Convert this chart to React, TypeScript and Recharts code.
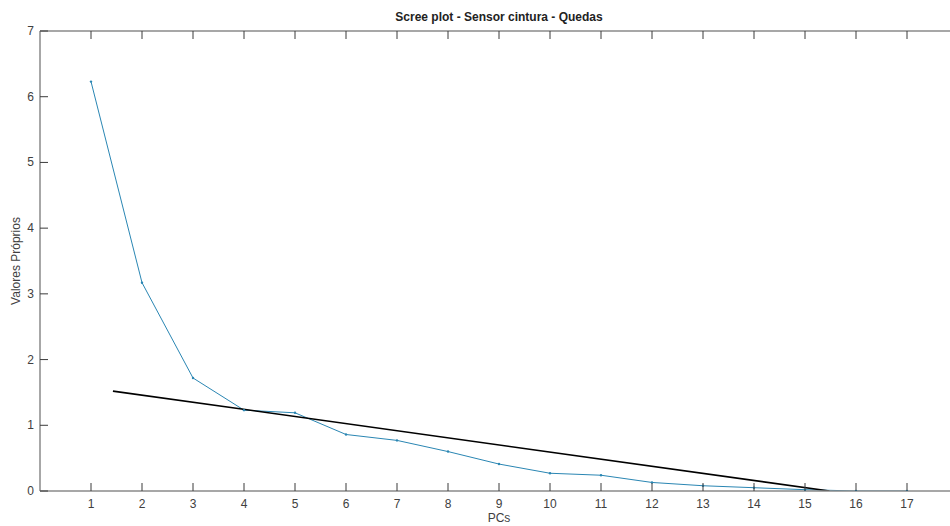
import React from "react";
import { LineChart, Line, XAxis, YAxis } from "recharts";

// principal components and their eigenvalues
const pcs = [1, 2, 3, 4, 5, 6, 7, 8, 9, 10, 11, 12, 13, 14, 15, 16, 17];
const eigenvalues = [6.23, 3.17, 1.72, 1.23, 1.19, 0.86, 0.77, 0.6, 0.41, 0.27, 0.24, 0.13, 0.08, 0.05, 0.02, 0, 0];

// straight reference line drawn over the elbow
const fitX = [1.43, 15.48];
const fitY = [1.52, 0];

const xTicks = [1, 2, 3, 4, 5, 6, 7, 8, 9, 10, 11, 12, 13, 14, 15, 16, 17];
const yTicks = [0, 1, 2, 3, 4, 5, 6, 7];

const BLUE = "#2a86b3";
const AXIS = "#8a8a8a";
const TICK = "#3a3a3a";
const TXT = "#404040";
const FONT = "'Liberation Sans', Arial, Helvetica, sans-serif";

const screeData = pcs.map((pc, i) => ({ x: pc, y: eigenvalues[i] }));
const fitData = fitX.map((x, i) => ({ x, y: fitY[i] }));

const BottomTick = (props: any) => {
  const { x, y, payload } = props;
  return (
    <g>
      <line x1={x} x2={x} y1={y} y2={y - 8} stroke={TICK} strokeWidth={1} />
      <text x={x} y={y + 17} textAnchor="middle" fill={TXT} fontSize={12} fontFamily={FONT}>
        {payload.value}
      </text>
    </g>
  );
};

const TopTick = (props: any) => {
  const { x, y } = props;
  return <line x1={x} x2={x} y1={y} y2={y + 8} stroke={TICK} strokeWidth={1} />;
};

const LeftTick = (props: any) => {
  const { x, y, payload } = props;
  return (
    <g>
      <line x1={x} x2={x + 8} y1={y} y2={y} stroke={TICK} strokeWidth={1} />
      <text x={x - 6} y={y + 4} textAnchor="end" fill={TXT} fontSize={12} fontFamily={FONT}>
        {payload.value}
      </text>
    </g>
  );
};

const RightTick = (props: any) => {
  const { x, y } = props;
  return <line x1={x} x2={x - 8} y1={y} y2={y} stroke={TICK} strokeWidth={1} />;
};

export default function App() {
  return (
    <div
      style={{
        position: "absolute",
        left: 0,
        top: 0,
        width: 950,
        height: 526,
        overflow: "hidden",
        background: "#fff",
        fontFamily: FONT,
      }}
    >
      <div
        style={{
          position: "absolute",
          left: 499,
          top: 10,
          transform: "translateX(-50%)",
          fontSize: 12,
          lineHeight: "14px",
          fontWeight: "bold",
          color: "#222",
          whiteSpace: "nowrap",
        }}
      >
        Scree plot - Sensor cintura - Quedas
      </div>
      <LineChart width={960} height={526} margin={{ top: 30, right: 1, bottom: 0, left: 0 }}>
        <XAxis
          xAxisId="b"
          dataKey="x"
          type="number"
          domain={[0, 18]}
          ticks={xTicks}
          allowDataOverflow
          height={35}
          tickSize={0}
          tickMargin={0}
          tickLine={false}
          tick={<BottomTick />}
          axisLine={{ stroke: AXIS, strokeWidth: 1.5 }}
          label={{ value: "PCs", position: "insideBottom", offset: 4, fill: TXT, fontSize: 12, fontFamily: FONT }}
        />
        <XAxis
          xAxisId="t"
          orientation="top"
          dataKey="x"
          type="number"
          domain={[0, 18]}
          ticks={xTicks}
          allowDataOverflow
          height={1}
          tickSize={0}
          tickMargin={0}
          tickLine={false}
          tick={<TopTick />}
          axisLine={{ stroke: AXIS, strokeWidth: 1.5 }}
        />
        <YAxis
          yAxisId="l"
          type="number"
          domain={[0, 7]}
          ticks={yTicks}
          allowDataOverflow
          width={40}
          tickSize={0}
          tickMargin={0}
          tickLine={false}
          tick={<LeftTick />}
          axisLine={{ stroke: AXIS, strokeWidth: 1.5 }}
          label={{
            value: "Valores Próprios",
            angle: -90,
            position: "insideLeft",
            offset: 16,
            fill: TXT,
            fontSize: 12,
            fontFamily: FONT,
            style: { textAnchor: "middle" },
          }}
        />
        <YAxis
          yAxisId="r"
          orientation="right"
          type="number"
          domain={[0, 7]}
          ticks={yTicks}
          allowDataOverflow
          width={1}
          tickSize={0}
          tickMargin={0}
          tickLine={false}
          tick={<RightTick />}
          axisLine={{ stroke: AXIS, strokeWidth: 1.5 }}
        />
        <Line
          xAxisId="b"
          yAxisId="l"
          data={screeData}
          dataKey="y"
          type="linear"
          stroke={BLUE}
          strokeWidth={1}
          dot={{ r: 1.2, fill: BLUE, stroke: BLUE, strokeWidth: 0 }}
          isAnimationActive={false}
        />
        <Line
          xAxisId="b"
          yAxisId="l"
          data={fitData}
          dataKey="y"
          type="linear"
          stroke="#000"
          strokeWidth={1.6}
          dot={false}
          isAnimationActive={false}
        />
        {/* invisible series so the top and right axes of the box get drawn */}
        <Line
          xAxisId="t"
          yAxisId="r"
          data={screeData}
          dataKey="y"
          stroke="none"
          dot={false}
          activeDot={false}
          legendType="none"
          isAnimationActive={false}
        />
      </LineChart>
    </div>
  );
}
